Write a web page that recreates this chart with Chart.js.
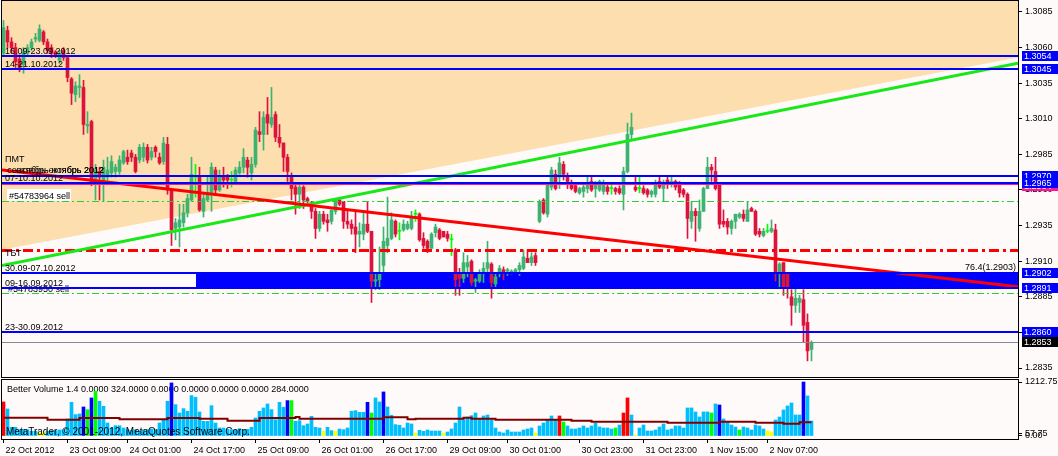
<!DOCTYPE html>
<html>
<head>
<meta charset="utf-8">
<script src="https://cdn.jsdelivr.net/npm/chart.js@4.4.1/dist/chart.umd.min.js"></script>
<style>
  html, body { margin: 0; padding: 0; background: #fffafa; }
  #wrap { position: relative; width: 1058px; height: 456px; overflow: hidden; }
  canvas { position: absolute; left: 0; }
  #cMain { top: 0; width: 1058px; height: 378px; }
  #cVol { top: 372px; width: 1058px; height: 84px; }
</style>
</head>
<body>
<div id="wrap">
  <canvas id="cMain" width="1058" height="378"></canvas>
  <canvas id="cVol" width="1058" height="84"></canvas>
</div>
<script>
/* EURUSD H1 · MetaTrader chart with Better Volume (Chart.js). */

// --- candles, one per hour, 22 Oct 17:00 .. 2 Nov 2012 ---
const opens = [
  1.3056,1.3072,1.3064,1.3060,1.3052,1.3048,1.3056,1.3060,1.3066,1.3065,
  1.3071,1.3064,1.3060,1.3057,1.3051,1.3058,1.3053,1.3038,1.3027,1.3032,
  1.3032,1.3005,1.3008,1.2965,1.2973,1.2966,1.2969,1.2972,1.2973,1.2973,
  1.2979,1.2983,1.2986,1.2983,1.2981,1.2983,1.2990,1.2983,1.2990,1.2983,
  1.2980,1.2992,1.2960,1.2933,1.2934,1.2937,1.2944,1.2953,1.2969,1.2969,
  1.2945,1.2953,1.2958,1.2974,1.2960,1.2969,1.2969,1.2967,1.2966,1.2972,
  1.2976,1.2981,1.2972,1.2978,1.3001,1.2999,1.3013,1.3006,1.3013,1.2997,
  1.2993,1.2983,1.2969,1.2962,1.2957,1.2962,1.2954,1.2951,1.2945,1.2933,
  1.2943,1.2939,1.2938,1.2945,1.2953,1.2952,1.2938,1.2936,1.2934,1.2929,
  1.2929,1.2936,1.2931,1.2896,1.2897,1.2907,1.2921,1.2926,1.2938,1.2931,
  1.2932,1.2933,1.2933,1.2943,1.2943,1.2926,1.2924,1.2919,1.2930,1.2932,
  1.2931,1.2929,1.2925,1.2918,1.2902,1.2898,1.2906,1.2910,1.2896,1.2896,
  1.2902,1.2905,1.2908,1.2894,1.2902,1.2904,1.2903,1.2902,1.2902,1.2904,
  1.2905,1.2912,1.2909,1.2914,1.2938,1.2953,1.2943,1.2962,1.2971,1.2969,
  1.2978,1.2969,1.2964,1.2963,1.2958,1.2959,1.2961,1.2966,1.2961,1.2960,
  1.2959,1.2962,1.2961,1.2961,1.2961,1.2957,1.2973,1.2999,1.2962,1.2961,
  1.2961,1.2960,1.2957,1.2957,1.2966,1.2961,1.2967,1.2964,1.2966,1.2965,
  1.2960,1.2957,1.2938,1.2945,1.2933,1.2945,1.2961,1.2976,1.2973,1.2964,
  1.2938,1.2938,1.2933,1.2938,1.2941,1.2943,1.2938,1.2947,1.2945,1.2931,
  1.2928,1.2931,1.2931,1.2932,1.2902,1.2909,1.2902,1.2885,1.2879,1.2881,
  1.2883,1.2867,1.2848
];
const highs = [
  1.3079,1.3075,1.3067,1.3063,1.3055,1.3060,1.3062,1.3066,1.3070,1.3076,
  1.3072,1.3066,1.3062,1.3058,1.3058,1.3060,1.3053,1.3039,1.3036,1.3041,
  1.3037,1.3015,1.3009,1.2978,1.2976,1.2981,1.2983,1.2984,1.2978,1.2984,
  1.2988,1.2988,1.2988,1.2985,1.2992,1.2993,1.2992,1.2990,1.2991,1.2986,
  1.2997,1.2997,1.2961,1.2940,1.2950,1.2950,1.2957,1.2983,1.2978,1.2976,
  1.2958,1.2969,1.2979,1.2976,1.2974,1.2976,1.2971,1.2973,1.2976,1.2980,
  1.2989,1.2983,1.2983,1.3004,1.3015,1.3015,1.3025,1.3032,1.3015,1.3006,
  1.2993,1.2985,1.2972,1.2964,1.2964,1.2963,1.2955,1.2952,1.2947,1.2945,
  1.2945,1.2943,1.2946,1.2954,1.2954,1.2952,1.2945,1.2939,1.2945,1.2937,
  1.2945,1.2952,1.2931,1.2902,1.2920,1.2934,1.2955,1.2944,1.2939,1.2937,
  1.2939,1.2938,1.2945,1.2946,1.2944,1.2930,1.2925,1.2930,1.2936,1.2933,
  1.2931,1.2931,1.2929,1.2919,1.2905,1.2916,1.2914,1.2911,1.2898,1.2904,
  1.2909,1.2924,1.2909,1.2902,1.2907,1.2906,1.2905,1.2904,1.2905,1.2909,
  1.2918,1.2918,1.2916,1.2916,1.2953,1.2954,1.2965,1.2976,1.2974,1.2983,
  1.2980,1.2972,1.2967,1.2964,1.2962,1.2965,1.2969,1.2969,1.2966,1.2967,
  1.2967,1.2965,1.2964,1.2962,1.2963,1.2976,1.3007,1.3014,1.2969,1.2969,
  1.2963,1.2961,1.2960,1.2967,1.2969,1.2967,1.2969,1.2969,1.2967,1.2966,
  1.2961,1.2958,1.2952,1.2947,1.2953,1.2962,1.2983,1.2978,1.2983,1.2965,
  1.2946,1.2940,1.2939,1.2943,1.2944,1.2946,1.2952,1.2948,1.2946,1.2933,
  1.2933,1.2936,1.2939,1.2936,1.2909,1.2909,1.2902,1.2890,1.2891,1.2886,
  1.2890,1.2873,1.2854
];
const lows = [
  1.3055,1.3060,1.3056,1.3046,1.3043,1.3042,1.3054,1.3058,1.3064,1.3064,
  1.3062,1.3056,1.3053,1.3053,1.3049,1.3051,1.3036,1.3020,1.3022,1.3025,
  1.2999,1.3000,1.2963,1.2953,1.2953,1.2952,1.2966,1.2969,1.2969,1.2971,
  1.2978,1.2978,1.2980,1.2972,1.2979,1.2980,1.2979,1.2981,1.2983,1.2978,
  1.2978,1.2957,1.2921,1.2925,1.2920,1.2934,1.2941,1.2952,1.2955,1.2945,
  1.2941,1.2952,1.2945,1.2957,1.2959,1.2962,1.2961,1.2962,1.2965,1.2971,
  1.2972,1.2969,1.2967,1.2976,1.2994,1.2988,1.2999,1.3004,1.2994,1.2990,
  1.2973,1.2966,1.2953,1.2943,1.2947,1.2947,1.2950,1.2940,1.2926,1.2931,
  1.2936,1.2931,1.2936,1.2943,1.2949,1.2933,1.2933,1.2929,1.2916,1.2920,
  1.2925,1.2930,1.2881,1.2890,1.2890,1.2902,1.2916,1.2925,1.2927,1.2925,
  1.2931,1.2932,1.2932,1.2938,1.2924,1.2919,1.2916,1.2919,1.2927,1.2925,
  1.2927,1.2924,1.2914,1.2886,1.2886,1.2895,1.2899,1.2893,1.2888,1.2895,
  1.2895,1.2902,1.2884,1.2892,1.2899,1.2897,1.2900,1.2901,1.2902,1.2900,
  1.2904,1.2909,1.2907,1.2907,1.2937,1.2943,1.2941,1.2960,1.2960,1.2961,
  1.2967,1.2961,1.2960,1.2958,1.2957,1.2955,1.2958,1.2959,1.2955,1.2959,
  1.2957,1.2957,1.2957,1.2957,1.2957,1.2946,1.2972,1.2995,1.2959,1.2958,
  1.2957,1.2955,1.2955,1.2955,1.2961,1.2952,1.2961,1.2962,1.2960,1.2955,
  1.2955,1.2926,1.2933,1.2924,1.2931,1.2945,1.2961,1.2966,1.2960,1.2933,
  1.2934,1.2929,1.2929,1.2933,1.2940,1.2938,1.2938,1.2945,1.2928,1.2927,
  1.2927,1.2930,1.2930,1.2896,1.2892,1.2886,1.2884,1.2865,1.2874,1.2874,
  1.2853,1.2840,1.2840
];
const closes = [
  1.3074,1.3064,1.3060,1.3050,1.3046,1.3057,1.3060,1.3064,1.3067,1.3073,
  1.3064,1.3058,1.3056,1.3055,1.3056,1.3053,1.3039,1.3028,1.3033,1.3033,
  1.3006,1.3006,1.2966,1.2974,1.2969,1.2976,1.2974,1.2980,1.2976,1.2981,
  1.2987,1.2980,1.2983,1.2973,1.2990,1.2990,1.2981,1.2987,1.2987,1.2979,
  1.2993,1.2960,1.2932,1.2937,1.2939,1.2944,1.2954,1.2971,1.2969,1.2946,
  1.2954,1.2958,1.2976,1.2960,1.2969,1.2967,1.2967,1.2967,1.2974,1.2976,
  1.2983,1.2976,1.2978,1.3002,1.2999,1.3011,1.3007,1.3011,1.2997,1.2993,
  1.2983,1.2973,1.2961,1.2957,1.2962,1.2953,1.2952,1.2945,1.2933,1.2943,
  1.2938,1.2937,1.2946,1.2953,1.2950,1.2938,1.2936,1.2933,1.2929,1.2931,
  1.2936,1.2931,1.2896,1.2897,1.2902,1.2924,1.2926,1.2939,1.2929,1.2931,
  1.2936,1.2936,1.2941,1.2943,1.2925,1.2921,1.2919,1.2929,1.2934,1.2926,
  1.2927,1.2926,1.2925,1.2897,1.2898,1.2909,1.2909,1.2895,1.2897,1.2902,
  1.2905,1.2909,1.2895,1.2899,1.2905,1.2902,1.2904,1.2903,1.2904,1.2907,
  1.2913,1.2909,1.2913,1.2909,1.2952,1.2944,1.2964,1.2974,1.2961,1.2979,
  1.2971,1.2966,1.2961,1.2959,1.2961,1.2962,1.2964,1.2960,1.2964,1.2966,
  1.2964,1.2959,1.2961,1.2959,1.2958,1.2973,1.2999,1.3004,1.2960,1.2961,
  1.2958,1.2957,1.2959,1.2964,1.2962,1.2964,1.2964,1.2966,1.2962,1.2958,
  1.2957,1.2940,1.2945,1.2942,1.2945,1.2961,1.2976,1.2974,1.2961,1.2936,
  1.2936,1.2934,1.2938,1.2943,1.2943,1.2940,1.2946,1.2945,1.2929,1.2929,
  1.2931,1.2931,1.2933,1.2902,1.2908,1.2892,1.2892,1.2879,1.2884,1.2884,
  1.2865,1.2847,1.2853
];

// --- Better Volume histogram + its average ---
const volumes = [
  765,607,195,195,142,142,142,105,105,67,
  67,105,120,120,135,142,382,757,480,495,
  652,592,855,1005,780,667,292,180,232,232,
  180,142,127,142,112,127,142,157,142,292,
  367,780,1192,705,517,615,555,907,870,540,
  330,330,682,292,180,180,150,142,127,165,
  135,150,195,405,555,630,720,592,367,757,
  645,795,795,330,345,232,270,442,195,180,
  105,195,120,105,157,142,180,555,570,532,
  532,757,517,855,765,990,652,465,255,240,
  180,292,270,67,127,105,135,112,112,112,
  67,90,157,292,652,367,427,457,517,375,
  450,472,367,180,90,67,135,90,90,90,
  135,157,180,67,225,292,367,450,360,450,
  315,225,157,157,180,225,180,225,292,202,
  180,180,157,180,247,517,855,472,22,180,
  247,112,112,135,202,270,135,157,225,225,
  180,630,630,540,427,540,540,517,720,697,
  382,315,247,202,135,202,180,135,247,225,
  157,112,90,360,427,585,675,742,472,472,
  1212,900,337
];
// bars that are not "normal" volume, by Better Volume class
const volClimaxUp = [0, 139, 155, 156];
const volLow = [9, 10, 80, 83, 103, 110, 133, 158, 191, 192];
const volChurn = [21, 23, 72, 92, 140, 153, 177, 184];
const volHigh = [20, 22, 42, 71, 91, 95, 179, 200];
// average line: [first bar, value] for each flat step
const volAvgSteps = [
  [0, 410], [11, 367], [19, 405], [29, 375], [41, 405], [49, 390], [56, 345], [64, 405],
  [73, 427], [74, 390], [95, 420], [101, 375], [103, 390], [115, 412], [117, 390], [123, 367],
  [142, 345], [147, 322], [166, 300], [179, 322], [188, 300], [195, 277], [199, 307], [202, 307]
];
const volTicks = [0, 57.75, 1212.75];

// --- axes ---
const priceTicks = [1.2835, 1.2860, 1.2885, 1.2910, 1.2935, 1.2960, 1.2985, 1.3010, 1.3035, 1.3060, 1.3085];
const timeTickBars = [0, 16, 31, 47, 63, 79, 95, 111, 126, 144, 160, 176, 191];
const timeLabels = ['22 Oct 2012', '23 Oct 09:00', '24 Oct 01:00', '24 Oct 17:00', '25 Oct 09:00', '26 Oct 01:00',
  '26 Oct 17:00', '29 Oct 09:00', '30 Oct 01:00', '30 Oct 23:00', '31 Oct 23:00', '1 Nov 15:00', '2 Nov 07:00'];

// --- chart objects ---
const blueLevels = [1.3054, 1.3045, 1.2970, 1.2965, 1.2902, 1.2891, 1.2860];
const blueNames = ['16.09-23.09.2012', '14-21.10.2012', 'сентябрь-октябрь 2012', '07-10.10.2012',
  '30.09-07.10.2012', '09-16.09.2012', '23-30.09.2012'];
const pinkLevel = 1.2964;
const orderLevels = [1.2952, 1.2888];
const orderNames = ['#54783964 sell', '#54783950 sell'];
const redDashLevel = 1.2918;
const bidLevel = 1.2853;
const zoneBars = [48, 253.625];
const zonePrices = [1.2902, 1.2891];
const peachEdge = [[-0.375, 1.2918], [253.625, 1.3053]];
const greenTrend = [[-0.375, 1.2907], [253.625, 1.3049]];
const redTrend = [[-0.375, 1.2974], [253.625, 1.2892]];
const fiboText = '76.4(1.2903)';

const BULL = '#3CB371', BEAR = '#DC143C', DOJI = '#00FF00';
const SNOW = '#FFFAFA', PEACH = '#FDDFAF';
const FONT = "'Liberation Sans', Arial, sans-serif";
const X_MIN = -0.375, X_MAX = 253.625;

Chart.defaults.font.family = FONT;
Chart.defaults.font.size = 9;
Chart.defaults.color = '#000';

const tone = i => closes[i] > opens[i] ? BULL : (closes[i] < opens[i] ? BEAR : DOJI);
const idx = closes.map((_, i) => i);

function hline(ctx, a, py, color, w, dash) {
  const yy = w % 2 ? Math.round(py) + 0.5 : Math.round(py);
  ctx.beginPath();
  ctx.setLineDash(dash || []);
  ctx.strokeStyle = color; ctx.lineWidth = w;
  ctx.moveTo(a.left, yy); ctx.lineTo(a.right, yy);
  ctx.stroke();
}
function seg(ctx, x, y, pts, color, w) {
  ctx.beginPath();
  ctx.setLineDash([]);
  ctx.strokeStyle = color; ctx.lineWidth = w;
  ctx.moveTo(x.getPixelForValue(pts[0][0]), y.getPixelForValue(pts[0][1]));
  ctx.lineTo(x.getPixelForValue(pts[1][0]), y.getPixelForValue(pts[1][1]));
  ctx.stroke();
}
function txt(ctx, s, px, py, align) {
  ctx.fillStyle = '#000';
  ctx.textAlign = align || 'left';
  ctx.textBaseline = 'alphabetic';
  ctx.fillText(s, px, py);
}
function tag(ctx, py, s, bg) {
  const yy = Math.round(py);
  ctx.fillStyle = bg; ctx.fillRect(1022, yy - 5, 36, 10);
  ctx.fillStyle = '#fff';
  ctx.textAlign = 'left'; ctx.textBaseline = 'middle';
  ctx.fillText(s, 1024, yy + 0.5);
}

const mainPaint = {
  id: 'mainPaint',
  beforeDatasetsDraw(chart) {
    const { ctx, chartArea: a, scales: { x, y } } = chart;
    ctx.save();
    ctx.fillStyle = SNOW; ctx.fillRect(a.left, a.top, a.width, a.height);
    ctx.fillStyle = PEACH;
    ctx.beginPath();
    ctx.moveTo(a.left, a.top); ctx.lineTo(a.right, a.top);
    ctx.lineTo(x.getPixelForValue(peachEdge[1][0]), y.getPixelForValue(peachEdge[1][1]));
    ctx.lineTo(x.getPixelForValue(peachEdge[0][0]), y.getPixelForValue(peachEdge[0][1]));
    ctx.closePath(); ctx.fill();
    const zl = Math.round(x.getPixelForValue(zoneBars[0]));
    const zt = Math.round(y.getPixelForValue(zonePrices[0]));
    const zb = Math.round(y.getPixelForValue(zonePrices[1]));
    ctx.fillStyle = '#0000FF';
    ctx.fillRect(zl, zt, Math.round(x.getPixelForValue(zoneBars[1])) - zl, zb - zt);
    ctx.restore();
  },
  afterDatasetsDraw(chart) {
    const { ctx, chartArea: a, scales: { x, y } } = chart;
    ctx.save();
    ctx.beginPath(); ctx.rect(a.left, a.top, a.width, a.height); ctx.clip();
    ctx.font = '9px ' + FONT;

    // order labels, partly hidden under the lines
    txt(ctx, orderNames[1], 8, Math.round(y.getPixelForValue(orderLevels[1])) - 1);
    orderLevels.forEach(p => hline(ctx, a, y.getPixelForValue(p), '#32CD32', 1, [7, 3, 2, 3]));
    hline(ctx, a, y.getPixelForValue(bidLevel), '#7F8A96', 1);
    hline(ctx, a, y.getPixelForValue(redDashLevel), '#FF0000', 3, [10, 4, 3, 4]);

    seg(ctx, x, y, greenTrend, '#18E818', 3);
    seg(ctx, x, y, redTrend, '#FF0000', 3);

    hline(ctx, a, y.getPixelForValue(pinkLevel), '#FF1493', 2);
    blueLevels.forEach(p => hline(ctx, a, y.getPixelForValue(p), '#0000FF', 2));

    // descriptions above each level
    blueLevels.forEach((p, k) => {
      const ly = Math.round(y.getPixelForValue(p)) - 2;
      if (k === 2) {
        txt(ctx, blueNames[k], 104, ly - 1, 'right');
        txt(ctx, 'октябрь-ноябрь 2012', 104, ly - 1, 'right');
      } else {
        txt(ctx, blueNames[k], 5, ly);
      }
    });
    const redY0 = y.getPixelForValue(redTrend[0][1]);
    txt(ctx, 'ПМТ', 5, Math.round(redY0) - 8);
    txt(ctx, 'ТБТ', 5, Math.round(y.getPixelForValue(redDashLevel)) + 6);

    const oy = Math.round(y.getPixelForValue(orderLevels[0]));
    ctx.fillStyle = '#fff'; ctx.fillRect(7, oy - 12, 64, 12);
    txt(ctx, orderNames[0], 9, oy - 2);

    txt(ctx, fiboText, a.right - 2, Math.round(y.getPixelForValue(zonePrices[0])) - 3, 'right');
    ctx.restore();
  },
  afterDraw(chart) {
    const { ctx, chartArea: a, scales: { y } } = chart;
    ctx.save();
    ctx.font = '9px ' + FONT;
    tag(ctx, y.getPixelForValue(pinkLevel) + 2, pinkLevel.toFixed(4), '#FF1493');
    blueLevels.forEach(p => tag(ctx, y.getPixelForValue(p), p.toFixed(4), '#0000FF'));
    tag(ctx, y.getPixelForValue(bidLevel), bidLevel.toFixed(4), '#000');
    ctx.strokeStyle = '#000'; ctx.lineWidth = 1; ctx.setLineDash([]);
    ctx.strokeRect(a.left - 0.5, a.top - 0.5, a.width + 1, a.height + 1);
    ctx.restore();
  }
};

new Chart(document.getElementById('cMain'), {
  type: 'bar',
  data: {
    datasets: [
      { data: idx.map(i => ({ x: i, y: [lows[i], highs[i]] })), backgroundColor: idx.map(tone),
        barThickness: 1, grouped: false, borderWidth: 0, order: 2 },
      { data: idx.map(i => ({ x: i, y: [opens[i], closes[i]] })), backgroundColor: idx.map(tone),
        barThickness: 3, minBarLength: 1, grouped: false, borderWidth: 0, order: 1 }
    ]
  },
  options: {
    responsive: false, animation: false, events: [],
    layout: { padding: { left: 2, top: 1, right: 0, bottom: 1 } },
    plugins: { legend: { display: false }, tooltip: { enabled: false } },
    scales: {
      x: { type: 'linear', min: X_MIN, max: X_MAX, offset: false, display: false, grid: { offset: false } },
      y: {
        position: 'right', min: 1.282868, max: 1.309272,
        afterBuildTicks: s => { s.ticks = priceTicks.map(v => ({ value: v })); },
        afterFit: s => { s.width = 40; s.paddingTop = 0; s.paddingBottom = 0; },
        ticks: { autoSkip: false, padding: 3, font: { size: 9 }, callback: v => v.toFixed(4) },
        grid: { drawOnChartArea: false, drawTicks: true, tickLength: 4, color: '#000' },
        border: { display: true, color: '#000' }
      }
    }
  },
  plugins: [mainPaint]
});

const volColor = i => volHigh.includes(i) ? '#0000FF' : volChurn.includes(i) ? '#00FF00' :
  volClimaxUp.includes(i) ? '#FF0000' : volLow.includes(i) ? '#FFFF00' : '#00BFFF';

const volPaint = {
  id: 'volPaint',
  beforeDatasetsDraw(chart) {
    const { ctx, chartArea: a } = chart;
    ctx.save();
    ctx.fillStyle = SNOW; ctx.fillRect(a.left, a.top, a.width, a.height);
    ctx.font = '9px ' + FONT;
    txt(ctx, 'Better Volume 1.4 0.0000 324.0000 0.0000 0.0000 0.0000 0.0000 284.0000', 7, a.top + 12);
    ctx.restore();
  },
  afterDraw(chart) {
    const { ctx, chartArea: a } = chart;
    ctx.save();
    ctx.font = '10px ' + FONT;
    txt(ctx, 'MetaTrader, © 2001-2012, MetaQuotes Software Corp.', 6, a.bottom - 4);
    ctx.strokeStyle = '#000'; ctx.lineWidth = 1;
    ctx.strokeRect(a.left - 0.5, a.top - 0.5, a.width + 1, a.height + 1);
    ctx.restore();
  }
};

new Chart(document.getElementById('cVol'), {
  type: 'bar',
  data: {
    datasets: [
      { type: 'line', data: volAvgSteps.map(([i, v]) => ({ x: i, y: v })), borderColor: '#800000',
        borderWidth: 2, stepped: true, pointRadius: 0, fill: false, order: 0 },
      { type: 'bar', data: volumes.map((v, i) => ({ x: i, y: v })), backgroundColor: idx.map(volColor),
        barThickness: 3, grouped: false, borderWidth: 0, order: 1 }
    ]
  },
  options: {
    responsive: false, animation: false, events: [],
    layout: { padding: { left: 2, top: 8, right: 0, bottom: 0 } },
    plugins: { legend: { display: false }, tooltip: { enabled: false } },
    scales: {
      x: {
        type: 'linear', position: 'bottom', min: X_MIN, max: X_MAX, offset: false,
        afterBuildTicks: s => { s.ticks = timeTickBars.map(v => ({ value: v })); },
        afterFit: s => { s.height = 17; s.paddingLeft = 0; s.paddingRight = 0; },
        ticks: { autoSkip: false, maxRotation: 0, align: 'start', labelOffset: 2, padding: 2,
          font: { size: 9 }, callback: (v, k) => timeLabels[k] },
        grid: { drawOnChartArea: false, drawTicks: true, tickLength: 4, color: '#000', offset: false },
        border: { display: true, color: '#000' }
      },
      y: {
        position: 'right', min: -67.4, max: 1257.7,
        afterBuildTicks: s => { s.ticks = volTicks.map(v => ({ value: v })); },
        afterFit: s => { s.width = 40; s.paddingTop = 0; s.paddingBottom = 0; },
        ticks: { autoSkip: false, padding: 3, font: { size: 9 }, callback: v => v.toFixed(2) },
        grid: { drawOnChartArea: false, drawTicks: true, tickLength: 4, color: '#000' },
        border: { display: true, color: '#000' }
      }
    }
  },
  plugins: [volPaint]
});
</script>
</body>
</html>
